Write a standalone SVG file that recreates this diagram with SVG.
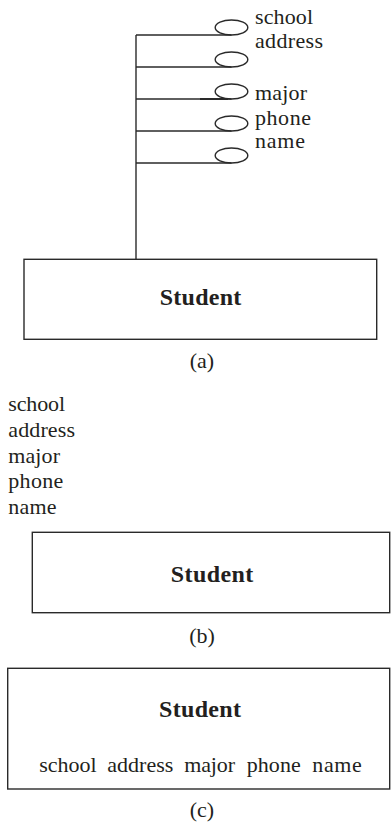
<svg xmlns="http://www.w3.org/2000/svg" width="391" height="826" viewBox="0 0 391 826">
  <style>
    .ln { fill: none; stroke: #2a2a2a; stroke-width: 1.4; }
    .box { fill: #ffffff; stroke: #2a2a2a; stroke-width: 1.4; }
    .attr { font-family: "Liberation Serif", "Times New Roman", serif; font-size: 22px; fill: #231f20; }
    .title { font-family: "Liberation Serif", "Times New Roman", serif; font-size: 24px; font-weight: bold; fill: #231f20; text-anchor: middle; }
    .cap { font-family: "Liberation Serif", "Times New Roman", serif; font-size: 22px; fill: #231f20; text-anchor: middle; }
  </style>

  <!-- (a) entity with attribute ovals -->
  <g id="connectors">
    <path class="ln" d="M136 35 V259.3"/>
    <path class="ln" d="M136 35 H231.5"/>
    <path class="ln" d="M136 67 H231.5"/>
    <path class="ln" d="M136 99 H231.5"/>
    <path class="ln" d="M136 131 H231.5"/>
    <path class="ln" d="M136 163 H231.5"/>
    <path d="M200 99 H228" stroke="#2a2a2a" stroke-width="2"/>
  </g>

  <g id="attr-school-a">
    <ellipse class="ln" cx="231.5" cy="27.5" rx="16.3" ry="7.5"/>
    <text class="attr" x="255" y="24" textLength="58" lengthAdjust="spacing">school</text>
  </g>
  <g id="attr-address-a">
    <ellipse class="ln" cx="231.5" cy="59.5" rx="16.3" ry="7.5"/>
    <text class="attr" x="255" y="48.3" textLength="68" lengthAdjust="spacing">address</text>
  </g>
  <g id="attr-major-a">
    <ellipse class="ln" cx="231.5" cy="91.5" rx="16.3" ry="7.5"/>
    <text class="attr" x="255" y="100" textLength="52" lengthAdjust="spacing">major</text>
  </g>
  <g id="attr-phone-a">
    <ellipse class="ln" cx="231.5" cy="123.5" rx="16.3" ry="7.5"/>
    <text class="attr" x="255" y="125" textLength="56" lengthAdjust="spacing">phone</text>
  </g>
  <g id="attr-name-a">
    <ellipse class="ln" cx="231.5" cy="155.5" rx="16.3" ry="7.5"/>
    <text class="attr" x="255" y="148.3" textLength="50" lengthAdjust="spacing">name</text>
  </g>

  <g id="student-a">
    <rect class="box" x="24" y="259.3" width="352.7" height="80"/>
    <text class="title" x="200.5" y="305" textLength="81.7" lengthAdjust="spacing">Student</text>
  </g>
  <text class="cap" x="202" y="368.3">(a)</text>

  <!-- (b) attribute list above the entity -->
  <g id="attr-list-b">
    <text class="attr" x="8.3" y="410.7" textLength="56.7" lengthAdjust="spacing">school</text>
    <text class="attr" x="8.3" y="437" textLength="66.7" lengthAdjust="spacing">address</text>
    <text class="attr" x="8.3" y="462.7" textLength="51.7" lengthAdjust="spacing">major</text>
    <text class="attr" x="8.3" y="488.3" textLength="55" lengthAdjust="spacing">phone</text>
    <text class="attr" x="8.3" y="514" textLength="48.3" lengthAdjust="spacing">name</text>
  </g>
  <g id="student-b">
    <rect class="box" x="32.3" y="532.3" width="357.4" height="80.4"/>
    <text class="title" x="212" y="581.7" textLength="82.7" lengthAdjust="spacing">Student</text>
  </g>
  <text class="cap" x="202" y="643">(b)</text>

  <!-- (c) attributes inside the entity -->
  <g id="student-c">
    <rect class="box" x="7.7" y="668.3" width="382" height="120.7"/>
    <text class="title" x="200" y="717" textLength="82" lengthAdjust="spacing">Student</text>
    <text class="attr" x="39.3" y="771.7" textLength="57.4" lengthAdjust="spacing">school</text>
    <text class="attr" x="107.3" y="771.7" textLength="66" lengthAdjust="spacing">address</text>
    <text class="attr" x="184.3" y="771.7" textLength="50.7" lengthAdjust="spacing">major</text>
    <text class="attr" x="246.7" y="771.7" textLength="54" lengthAdjust="spacing">phone</text>
    <text class="attr" x="312.3" y="771.7" textLength="49.4" lengthAdjust="spacing">name</text>
  </g>
  <text class="cap" x="202" y="816.7">(c)</text>
</svg>
